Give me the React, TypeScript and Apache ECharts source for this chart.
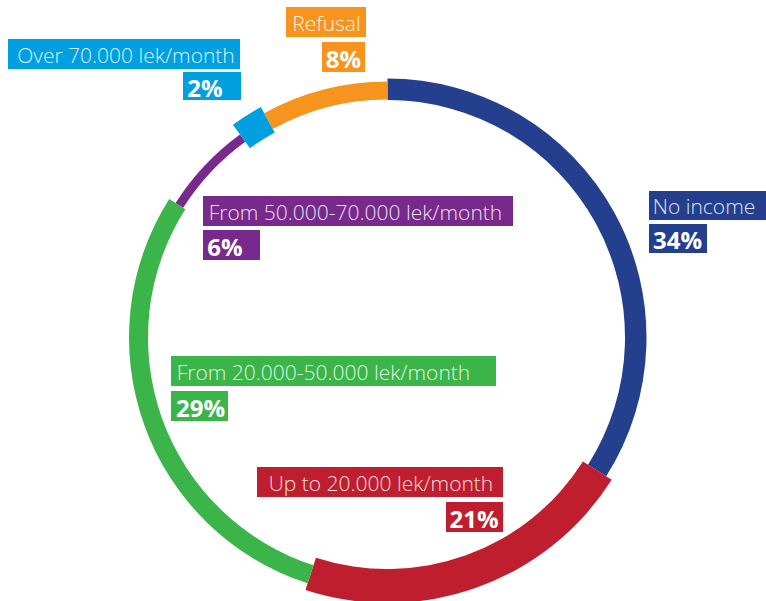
import React, { useEffect, useRef } from "react";
import * as echarts from "echarts";

const categories = [
  "No income",
  "Up to 20.000 lek/month",
  "From 20.000-50.000 lek/month",
  "From 50.000-70.000 lek/month",
  "Over 70.000 lek/month",
  "Refusal",
];
const values = [34, 21, 29, 6, 2, 8];
const colors = ["#253F8F", "#BE1E2D", "#3BB54A", "#782A8C", "#009FE0", "#F7941E"];

// ring band (inner, outer radius in px) for each slice
const bands: [number, number][] = [
  [237.5, 259],
  [231.5, 265.5],
  [239.5, 258.5],
  [242, 251],
  [234, 263],
  [238, 256],
];

// label layout: name box [x, y, w, h, textCenterX], value box [x, y, w, h, textCenterX]
const labelBoxes = [
  { n: [649, 191, 120, 29, 704], v: [649, 224, 58, 29, 677.5] },
  { n: [257, 467, 246, 30, 381], v: [446, 502, 57, 30, 474] },
  { n: [171, 356, 325, 30, 323.5], v: [171, 391, 57, 30, 200.5] },
  { n: [203, 196, 310, 30, 355.5], v: [203, 230, 57, 30, 225] },
  { n: [8, 39, 232, 30, 126], v: [183, 72, 58, 28, 205] },
  { n: [286, 7, 80, 30, 326.5], v: [322, 42, 43, 30, 343.5] },
];

const CX = 387.5;
const CY = 337.5;

export default function App() {
  const ref = useRef<HTMLDivElement>(null);
  useEffect(() => {
    if (!ref.current) return;
    const chart = echarts.init(ref.current, undefined, { renderer: "svg" });
    const series = categories.map((_, i) => ({
      type: "pie",
      silent: true,
      animation: false,
      center: [CX, CY],
      radius: bands[i],
      startAngle: 90,
      clockwise: true,
      avoidLabelOverlap: false,
      label: { show: false },
      labelLine: { show: false },
      emphasis: { disabled: true },
      data: values.map((v, j) => ({
        value: v,
        name: categories[j],
        itemStyle: { color: j === i ? colors[i] : "rgba(0,0,0,0)", borderWidth: 0 },
      })),
    }));
    const graphics: any[] = [];
    labelBoxes.forEach((b, i) => {
      const [nx, ny, nw, nh, ncx] = b.n;
      const [vx, vy, vw, vh, vcx] = b.v;
      graphics.push({
        type: "rect",
        shape: { x: nx, y: ny, width: nw, height: nh },
        style: { fill: colors[i] },
      });
      graphics.push({
        type: "text",
        x: ncx,
        y: ny + nh / 2 + 0.5,
        style: {
          text: categories[i],
          fill: "rgba(255,255,255,0.88)",
          font: '300 21px "Open Sans", sans-serif',
          align: "center",
          verticalAlign: "middle",
        },
      });
      graphics.push({
        type: "rect",
        shape: { x: vx, y: vy, width: vw, height: vh },
        style: { fill: colors[i] },
      });
      graphics.push({
        type: "text",
        x: vcx,
        y: vy + vh / 2 + 1,
        style: {
          text: values[i] + "%",
          fill: "#ffffff",
          font: 'bold 24px "Open Sans", sans-serif',
          align: "center",
          verticalAlign: "middle",
        },
      });
    });
    chart.setOption({
      animation: false,
      backgroundColor: "#ffffff",
      series,
      graphic: graphics,
    });
    return () => chart.dispose();
  }, []);
  return (
    <div
      ref={ref}
      style={{ position: "fixed", left: 0, top: 0, width: 766, height: 601 }}
    />
  );
}
